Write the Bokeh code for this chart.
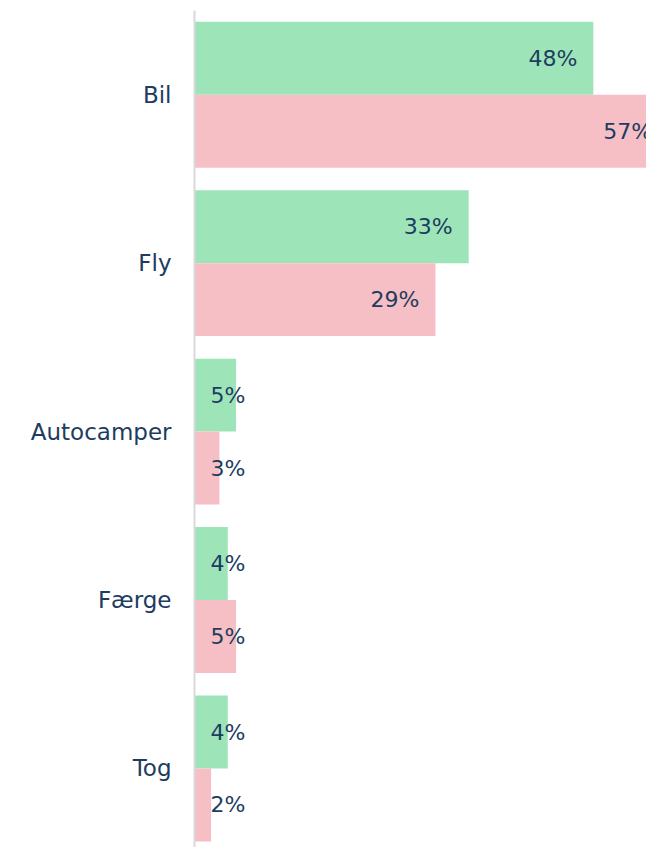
from bokeh.plotting import figure
from bokeh.models import Range1d, FixedTicker, ColumnDataSource
from bokeh.core.properties import value
from bokeh.embed import file_html
from bokeh.resources import INLINE

categories = ["Bil", "Fly", "Autocamper", "Færge", "Tog"]
series_a = [48, 33, 5, 4, 4]   # green
series_b = [57, 29, 3, 5, 2]   # pink

GREEN = "#9de5b9"
PINK = "#f6bfc5"
TEXT = "#1d3c5f"
FONT = "DejaVu Sans"

n = len(categories)
bar_h = 0.433

p = figure(width=646, height=847, output_backend="svg", toolbar_location=None,
           x_range=Range1d(0, 54.4), y_range=Range1d(n - 1 + 0.469, -0.5),
           min_border_left=194, min_border_right=0, min_border_top=10, min_border_bottom=0)
p.outline_line_color = None
p.xgrid.visible = False
p.ygrid.visible = False
p.xaxis.visible = False
p.background_fill_color = "white"

idx = list(range(n))
src_a = ColumnDataSource(dict(y=[i - bar_h / 2 for i in idx], v=series_a))
src_b = ColumnDataSource(dict(y=[i + bar_h / 2 for i in idx], v=series_b))
p.hbar(y="y", right="v", left=0, height=bar_h, source=src_a, fill_color=GREEN, line_color=None)
p.hbar(y="y", right="v", left=0, height=bar_h, source=src_b, fill_color=PINK, line_color=None)

# value labels
for src, vals in ((src_a, series_a), (src_b, series_b)):
    ys = src.data["y"]
    big = [(v, y) for v, y in zip(vals, ys) if v >= 10]
    small = [(v, y) for v, y in zip(vals, ys) if v < 10]
    if big:
        p.text(x=[b[0] for b in big], y=[b[1] for b in big], text=[f"{b[0]}%" for b in big],
               text_align="right", text_baseline="middle", x_offset=-16,
               text_font=value(FONT), text_font_size="22px", text_color=TEXT)
    if small:
        p.text(x=[0 for s in small], y=[s[1] for s in small], text=[f"{s[0]}%" for s in small],
               text_align="left", text_baseline="middle", x_offset=16,
               text_font=value(FONT), text_font_size="22px", text_color=TEXT)

yax = p.yaxis[0]
yax.ticker = FixedTicker(ticks=idx)
yax.major_label_overrides = {i: c for i, c in zip(idx, categories)}
yax.major_tick_line_color = None
yax.minor_tick_line_color = None
yax.axis_line_color = "#d9d9d9"
yax.axis_line_width = 2
yax.major_label_standoff = 17
yax.major_label_text_font = FONT
yax.major_label_text_font_size = "23px"
yax.major_label_text_color = TEXT

open("out.html", "w").write(file_html(p, INLINE))
